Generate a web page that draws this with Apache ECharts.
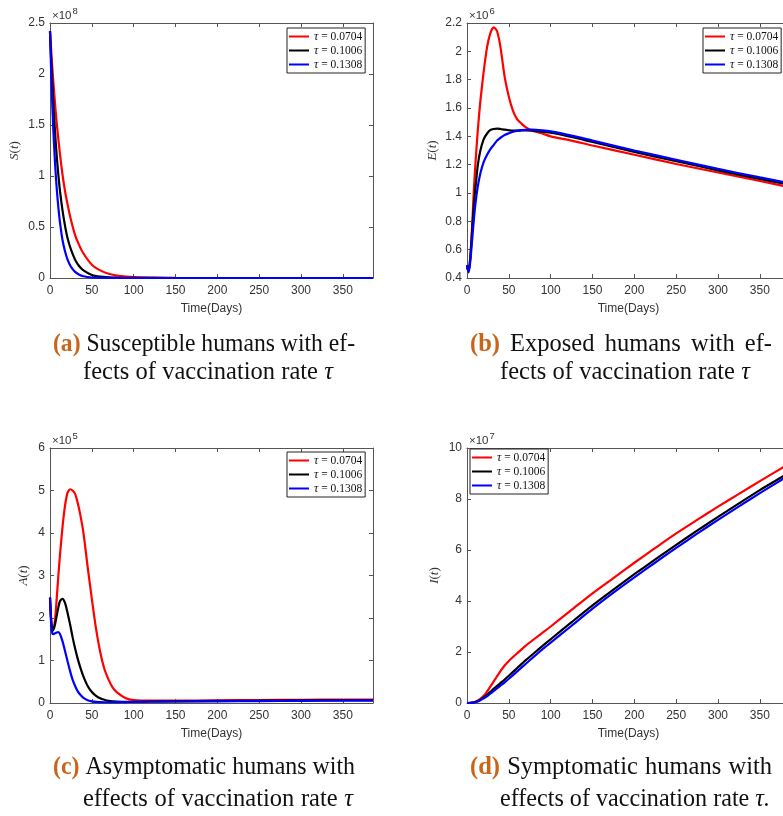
<!DOCTYPE html>
<html><head><meta charset="utf-8">
<script src="https://cdn.jsdelivr.net/npm/echarts/dist/echarts.min.js"></script>
<style>
html,body{margin:0;padding:0;overflow:hidden;background:#fff;width:783px;height:816px}
#c{width:800px;height:816px}
</style></head>
<body><div id="c"></div>
<script>
// ---------- data ----------
const seriesNames = ['τ = 0.0704', 'τ = 0.1006', 'τ = 0.1308'];
const xTicks = [0, 50, 100, 150, 200, 250, 300, 350];

// S(t), units of 1e8
const tS = [0,2,4,6,8,10,12,15,18,21,25,30,35,40,50,60,70,80,100,150,200,250,300,350,386];
const S_red   = [2.42,2.15,1.92,1.71,1.52,1.36,1.21,1.01,0.85,0.72,0.57,0.42,0.32,0.24,0.13,0.075,0.042,0.024,0.008,0.001,0,0,0,0,0];
const S_black = [2.42,2.03,1.71,1.43,1.20,1.01,0.85,0.66,0.51,0.39,0.28,0.18,0.115,0.075,0.03,0.013,0.006,0.003,0.001,0,0,0,0,0,0];
const S_blue  = [2.42,1.86,1.45,1.13,0.88,0.69,0.54,0.37,0.26,0.18,0.11,0.06,0.032,0.017,0.005,0.002,0.001,0,0,0,0,0,0,0,0];

// E(t), units of 1e6
const tE = [0,1,2,4,6,8,10,13,16,20,24,28,32,36,40,45,50,55,60,65,70,78,90,100,125,150,200,250,300,350,386];
const E_red   = [0.49,0.46,0.45,0.55,0.75,1.0,1.2,1.45,1.65,1.86,2.03,2.13,2.17,2.14,2.03,1.82,1.68,1.58,1.52,1.49,1.465,1.44,1.42,1.40,1.37,1.335,1.27,1.205,1.145,1.085,1.04];
const E_black = [0.49,0.46,0.45,0.55,0.72,0.9,1.03,1.2,1.3,1.38,1.42,1.445,1.452,1.455,1.452,1.447,1.443,1.44,1.44,1.441,1.442,1.44,1.432,1.425,1.395,1.36,1.29,1.225,1.16,1.10,1.058];
const E_blue  = [0.49,0.46,0.44,0.52,0.66,0.8,0.92,1.05,1.14,1.22,1.27,1.31,1.34,1.37,1.39,1.41,1.422,1.432,1.44,1.444,1.446,1.447,1.442,1.435,1.405,1.37,1.30,1.235,1.17,1.11,1.068];

// A(t), units of 1e5
const tA = [0,1,2,3,4,6,8,10,12,15,18,21,24,27,30,33,36,40,45,50,55,60,65,70,75,80,90,100,120,150,200,250,300,350,386];
const A_red   = [2.48,2.1,1.85,1.75,1.74,1.95,2.45,3.0,3.5,4.15,4.65,4.95,5.03,5.0,4.92,4.72,4.45,4.0,3.2,2.45,1.75,1.2,0.8,0.55,0.36,0.25,0.12,0.07,0.055,0.055,0.065,0.07,0.075,0.08,0.08];
const A_black = [2.48,2.05,1.8,1.7,1.72,1.85,2.05,2.25,2.4,2.45,2.35,2.12,1.85,1.55,1.28,1.05,0.85,0.62,0.4,0.26,0.17,0.11,0.075,0.05,0.04,0.035,0.03,0.03,0.035,0.04,0.05,0.055,0.06,0.065,0.065];
const A_blue  = [2.48,2.0,1.72,1.63,1.62,1.64,1.66,1.67,1.62,1.45,1.22,0.98,0.75,0.55,0.4,0.28,0.2,0.12,0.065,0.04,0.025,0.02,0.018,0.018,0.018,0.02,0.022,0.025,0.03,0.035,0.04,0.045,0.05,0.055,0.055];

// I(t), units of 1e7
const tI = [0,5,10,15,20,25,30,35,40,45,50,60,70,80,90,100,125,150,175,200,225,250,275,300,325,350,386];
const I_red   = [0,0.01,0.05,0.14,0.28,0.5,0.75,1.0,1.25,1.47,1.65,1.95,2.24,2.5,2.75,3.0,3.65,4.3,4.9,5.5,6.08,6.65,7.18,7.7,8.2,8.7,9.4];
const I_black = [0,0.01,0.04,0.11,0.22,0.35,0.5,0.64,0.78,0.92,1.07,1.37,1.67,1.95,2.23,2.5,3.17,3.83,4.45,5.05,5.63,6.2,6.76,7.3,7.83,8.35,9.05];
const I_blue  = [0,0.01,0.03,0.09,0.18,0.29,0.42,0.55,0.68,0.81,0.95,1.24,1.53,1.82,2.1,2.37,3.03,3.7,4.33,4.93,5.51,6.08,6.64,7.18,7.71,8.23,8.95];

const yTicksS = [0,0.5,1,1.5,2,2.5];
const yTicksE = [0.4,0.6,0.8,1,1.2,1.4,1.6,1.8,2,2.2];
const yTicksA = [0,1,2,3,4,5,6];
const yTicksI = [0,2,4,6,8,10];
const exponents = ['8','6','5','7'];
const yNames = ['S','E','A','I'];

// ---------- layout ----------
const colors = ['#ff0000', '#000000', '#0000ff'];
const XMAX = 386;
const panels = [
  {left:50,  top:23,  t:tS, ys:[S_red,S_black,S_blue], yt:yTicksS, gap:29, lg:{left:287, top:28}},
  {left:467, top:23,  t:tE, ys:[E_red,E_black,E_blue], yt:yTicksE, gap:28, lg:{left:703, top:28}},
  {left:50,  top:448, t:tA, ys:[A_red,A_black,A_blue], yt:yTicksA, gap:20, lg:{left:287, top:452}},
  {left:467, top:448, t:tI, ys:[I_red,I_black,I_blue], yt:yTicksI, gap:26, lg:{left:470, top:449}}
];
const PW = 323, PH = 255;
const axisCol = '#555';
const labCol = '#333';

const grid = [], xAxis = [], yAxis = [], series = [], legend = [], graphic = [];
panels.forEach((p, i) => {
  grid.push({left:p.left, top:p.top, width:PW, height:PH, containLabel:false});
  const yt = p.yt;
  const yint = yt[1] - yt[0];
  const common = {
    gridIndex:i, type:'value', min:0, max:XMAX, interval:xTicks[1]-xTicks[0],
    splitLine:{show:false},
    axisLine:{show:true, onZero:false, lineStyle:{color:axisCol, width:1}},
    axisTick:{show:true, inside:true, length:4, lineStyle:{color:axisCol}}
  };
  xAxis.push(Object.assign({}, common, {
    position:'bottom',
    axisLabel:{show:true, color:labCol, fontSize:12, fontFamily:'Liberation Sans', margin:7, showMaxLabel:false,
      formatter: v => xTicks.includes(v) ? String(v) : ''},
    name:'Time(Days)', nameLocation:'middle', nameGap:25,
    nameTextStyle:{color:labCol, fontSize:12, fontFamily:'Liberation Sans'}
  }));
  xAxis.push(Object.assign({}, common, {position:'top', axisLabel:{show:false}}));
  const ycommon = {
    gridIndex:i, type:'value', min:yt[0], max:yt[yt.length-1], interval:yint,
    splitLine:{show:false},
    axisLine:{show:true, onZero:false, lineStyle:{color:axisCol, width:1}},
    axisTick:{show:true, inside:true, length:4, lineStyle:{color:axisCol}}
  };
  yAxis.push(Object.assign({}, ycommon, {
    position:'left',
    axisLabel:{show:true, color:labCol, fontSize:12, fontFamily:'Liberation Sans', margin:5,
      formatter: v => String(+v.toFixed(4))},
    name:'{i|' + yNames[i] + '}({i|t})', nameLocation:'middle', nameGap:p.gap, nameRotate:90,
    nameTextStyle:{color:labCol, fontSize:13, fontFamily:'Liberation Serif',
      rich:{i:{fontStyle:'italic', fontFamily:'Liberation Serif', fontSize:13, color:labCol}}}
  }));
  yAxis.push(Object.assign({}, ycommon, {position:'right', axisLabel:{show:false}}));
  p.ys.forEach((vals, k) => {
    series.push({
      type:'line', name:seriesNames[k], xAxisIndex:2*i, yAxisIndex:2*i,
      data: p.t.map((tv, j) => [tv, vals[j]]),
      showSymbol:false, symbol:'none', smooth:0.25,
      lineStyle:{color:colors[k], width:2.2}, itemStyle:{color:colors[k]},
      clip:true, animation:false
    });
  });
  legend.push({
    left:p.lg.left, top:p.lg.top, orient:'vertical', data:seriesNames,
    icon:'rect', itemWidth:20, itemHeight:2, itemGap:1,
    padding:[2,3,2,2], borderColor:'#222', borderWidth:1, backgroundColor:'#fff',
    selectedMode:false,
    formatter: n => '{i|τ}' + n.slice(1),
    textStyle:{fontFamily:'Liberation Serif', fontSize:11.5, color:'#111', lineHeight:13,
      rich:{i:{fontStyle:'italic', fontFamily:'Liberation Serif', fontSize:12, color:'#111'}}}
  });
  // exponent ×10^n
  graphic.push({type:'text', x:p.left+2, y:p.top-1, style:{text:'×10', fontSize:11.5, fontFamily:'Liberation Sans', fill:labCol, verticalAlign:'bottom'}});
  graphic.push({type:'text', x:p.left+22.5, y:p.top-7, style:{text:exponents[i], fontSize:9.5, fontFamily:'Liberation Sans', fill:labCol, verticalAlign:'bottom'}});
});

// ---------- captions ----------
const capFont = 'Liberation Serif';
const capSize = 24.5;
const captionLines = [
  {x0:53,  x1:355, y:345, words:['(a)','Susceptible','humans','with','ef-']},
  {x0:83,  x1:333, y:373, words:['fects','of','vaccination','rate','τ']},
  {x0:470, x1:772, y:345, words:['(b)','Exposed','humans','with','ef-']},
  {x0:500, x1:750, y:373, words:['fects','of','vaccination','rate','τ']},
  {x0:53,  x1:355, y:768, words:['(c)','Asymptomatic','humans','with']},
  {x0:83,  x1:353, y:800, words:['effects','of','vaccination','rate','τ']},
  {x0:470, x1:772, y:768, words:['(d)','Symptomatic','humans','with']},
  {x0:500, x1:770, y:800, words:['effects','of','vaccination','rate','τ.']}
];
const ctx = document.createElement('canvas').getContext('2d');
function wstyle(w) {
  if (/^\([a-d]\)$/.test(w)) return {fontWeight:'bold', fontStyle:'normal', fill:'#c8651b'};
  if (w[0] === 'τ') return {fontWeight:'normal', fontStyle:'italic', fill:'#111'};
  return {fontWeight:'normal', fontStyle:'normal', fill:'#111'};
}
function measure(w) {
  const s = wstyle(w);
  ctx.font = s.fontStyle + ' ' + s.fontWeight + ' ' + capSize + 'px "' + capFont + '"';
  return ctx.measureText(w).width;
}
captionLines.forEach(line => {
  const widths = line.words.map(measure);
  const sum = widths.reduce((a, b) => a + b, 0);
  const target = line.x1 - line.x0;
  const n = line.words.length;
  const normalSpace = capSize * 0.25;
  let space = (target - sum) / (n - 1);
  let sc = 1;
  if (space < normalSpace) {
    sc = target / (sum + normalSpace * (n - 1));
    space = normalSpace * sc;
  }
  let x = line.x0;
  line.words.forEach((w, k) => {
    const s = wstyle(w);
    graphic.push({type:'text', x:x, y:line.y, scaleX:sc, scaleY:1,
      style:{text:w, fontSize:capSize, fontFamily:capFont, fontWeight:s.fontWeight, fontStyle:s.fontStyle,
        fill:s.fill, verticalAlign:'middle', align:'left'}});
    x += widths[k] * sc + space;
  });
});

const chart = echarts.init(document.getElementById('c'), null, {renderer:'canvas'});
chart.setOption({
  animation:false, backgroundColor:'#fff',
  grid, xAxis, yAxis, series, legend, graphic
});
</script>
</body></html>
